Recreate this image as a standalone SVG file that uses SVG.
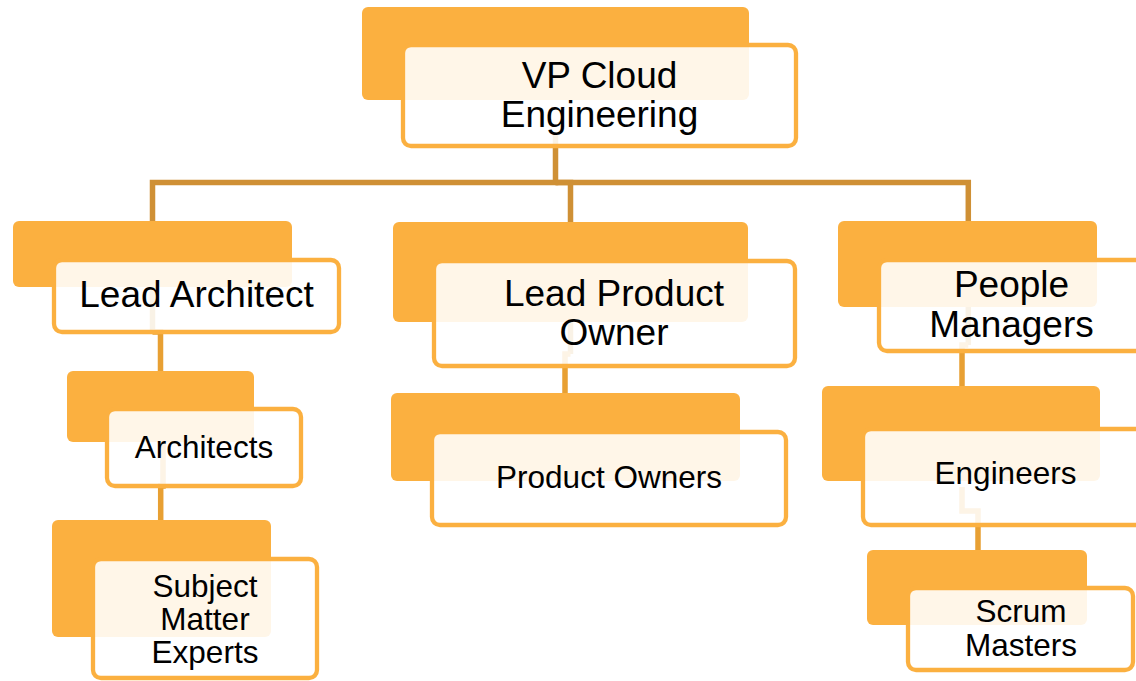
<svg xmlns="http://www.w3.org/2000/svg" width="1136" height="681" viewBox="0 0 1136 681">
  <style>
    .back { fill: #FBB040; }
    .front { fill: #FFFFFF; fill-opacity: 0.88; stroke: #FBB040; stroke-width: 4.3; }
    .lvl0 { fill: none; stroke: #CF9035; stroke-width: 5.5; stroke-linejoin: miter; }
    .lvl1 { fill: none; stroke: #E8A033; stroke-width: 5.5; stroke-linejoin: miter; }
    text { font-family: "Liberation Sans", Arial, sans-serif; fill: #000; text-anchor: middle; }
    .big { font-size: 37px; }
    .small { font-size: 31.5px; }
  </style>

  <rect width="1136" height="681" fill="#FFFFFF"/>

  <!-- connectors sit beneath the node cards -->
  <g id="connectors">
    <path class="lvl0" d="M555.5,132 V182.5 H152.5 V332"/>
    <path class="lvl0" d="M555.5,182.5 H570.5 V354"/>
    <path class="lvl0" d="M555.5,182.5 H968.3 V345"/>
    <path class="lvl1" d="M152.5,332 H160.5 V400"/>
    <path class="lvl1" d="M163,443 V486 H160.7 V540"/>
    <path class="lvl1" d="M570.5,354 H565 V420"/>
    <path class="lvl1" d="M968.3,345 H962 V420"/>
    <path class="lvl1" d="M962,487 V511 H978 V570"/>
  </g>

  <g id="node-vp">
    <rect class="back" x="362" y="7" width="387" height="93" rx="6"/>
    <rect class="front" x="403" y="45" width="393" height="101" rx="8"/>
    <text class="big" x="599.5" y="88">VP Cloud</text>
    <text class="big" x="599.5" y="127">Engineering</text>
  </g>

  <g id="node-lead-architect">
    <rect class="back" x="13" y="221" width="279" height="66" rx="6"/>
    <rect class="front" x="54" y="260" width="285" height="72" rx="8"/>
    <text class="big" x="196.5" y="307">Lead Architect</text>
  </g>

  <g id="node-architects">
    <rect class="back" x="67" y="371" width="187" height="71" rx="6"/>
    <rect class="front" x="107" y="409" width="194" height="77" rx="8"/>
    <text class="small" x="204" y="458">Architects</text>
  </g>

  <g id="node-sme">
    <rect class="back" x="52" y="520" width="219" height="117" rx="6"/>
    <rect class="front" x="93" y="559" width="224" height="119" rx="8"/>
    <text class="small" x="205" y="597">Subject</text>
    <text class="small" x="205" y="630">Matter</text>
    <text class="small" x="205" y="663">Experts</text>
  </g>

  <g id="node-lead-product-owner">
    <rect class="back" x="393" y="222" width="355" height="100" rx="6"/>
    <rect class="front" x="434" y="261" width="361" height="105" rx="8"/>
    <text class="big" x="614" y="306">Lead Product</text>
    <text class="big" x="614" y="345">Owner</text>
  </g>

  <g id="node-product-owners">
    <rect class="back" x="391" y="393" width="349" height="88" rx="6"/>
    <rect class="front" x="432" y="432" width="354" height="93" rx="8"/>
    <text class="small" x="609" y="488">Product Owners</text>
  </g>

  <g id="node-people-managers">
    <rect class="back" x="838" y="221" width="259" height="86" rx="6"/>
    <rect class="front" x="879" y="260" width="265" height="91" rx="8"/>
    <text class="big" x="1011.5" y="297">People</text>
    <text class="big" x="1011.5" y="337">Managers</text>
  </g>

  <g id="node-engineers">
    <rect class="back" x="822" y="386" width="278" height="95" rx="6"/>
    <rect class="front" x="863" y="429" width="284" height="96" rx="8"/>
    <text class="small" x="1005.5" y="484">Engineers</text>
  </g>

  <g id="node-scrum-masters">
    <rect class="back" x="867" y="550" width="220" height="75" rx="6"/>
    <rect class="front" x="908" y="588" width="225" height="82" rx="8"/>
    <text class="small" x="1021" y="622">Scrum</text>
    <text class="small" x="1021" y="656">Masters</text>
  </g>
</svg>
